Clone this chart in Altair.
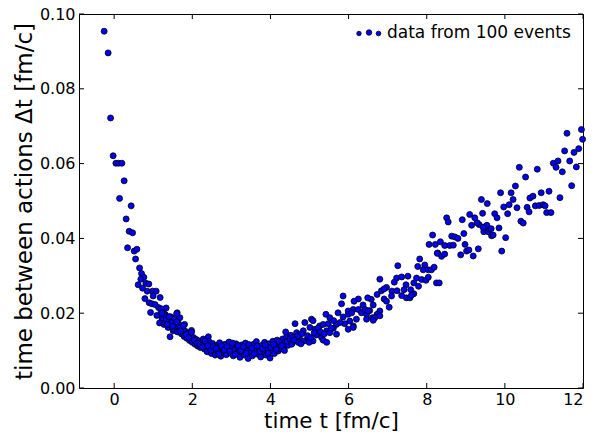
import altair as alt
import pandas as pd

# ---- data ----
t_descent = [-0.256, -0.154, -0.092, -0.026, 0.044, 0.113, 0.197, 0.256,
             0.138, 0.435, 0.307, 0.384, 0.471, 0.343, 0.512, 0.581, 0.548, 0.650,
             0.701, 0.760, 0.683, 0.811, 0.888, 0.614, 0.727, 0.845, 0.983, 1.075,
             0.998, 1.177, 0.786, 0.896, 0.965, 1.049, 1.136, 1.331, 1.203, 0.932,
             1.613, 1.093, 1.305, 1.459, 1.682, 1.229, 1.367, 1.546, 1.162, 1.272,
             1.426, 1.802, 1.43, 1.51, 1.98, 2.41, 4.39, 4.63, 1.60]
dt_descent = [0.0954, 0.0896, 0.0722, 0.0621, 0.0601, 0.0601, 0.0601, 0.0554,
              0.0507, 0.0487, 0.0452, 0.0419, 0.0415, 0.0375, 0.0366, 0.0371, 0.0345, 0.0321,
              0.0306, 0.0296, 0.0291, 0.0280, 0.0278, 0.0276, 0.0267, 0.0259, 0.0259, 0.0259,
              0.0246, 0.0242, 0.0239, 0.0228, 0.0225, 0.0223, 0.0215, 0.0214, 0.0204, 0.0202,
              0.0201, 0.0194, 0.0197, 0.0190, 0.0188, 0.0184, 0.0179, 0.0177, 0.0174, 0.0170,
              0.0170, 0.0170, 0.0137, 0.0153, 0.0154, 0.0137, 0.0150, 0.0172, 0.0199]

t_band = [1.20, 1.24, 1.27, 1.31, 1.34, 1.38, 1.41, 1.45, 1.48, 1.52, 1.55, 1.58,
          1.62, 1.65, 1.69, 1.72, 1.75, 1.79, 1.82, 1.86, 1.89, 1.93, 1.96, 2.00,
          2.03, 2.07, 2.10, 2.14, 2.17, 2.21, 2.24, 2.28, 2.31, 2.35, 2.38, 2.42,
          2.45, 2.49, 2.52, 2.56, 2.59, 2.63, 2.66, 2.70, 2.73, 2.77, 2.80, 2.84,
          2.87, 2.91, 2.94, 2.98, 3.01, 3.05, 3.08, 3.12, 3.15, 3.19, 3.22, 3.26,
          3.29, 3.33, 3.36, 3.40, 3.43, 3.47, 3.50, 3.54, 3.57, 3.61, 3.64, 3.68,
          3.71, 3.75, 3.78, 3.82, 3.85, 3.89, 3.92, 3.96, 3.99, 4.03, 4.06, 4.10,
          4.13, 4.17, 4.20, 4.24, 4.27, 4.31, 4.34, 4.38, 4.41, 4.45, 4.48, 4.52, 4.55,
          1.22, 1.36, 1.50, 1.60, 1.70, 1.77, 1.84, 1.91, 1.98, 2.05, 2.12, 2.19,
          2.26, 2.33, 2.40, 2.47, 2.54, 2.61, 2.68, 2.75, 2.82, 2.89, 2.96, 3.03,
          3.10, 3.17, 3.24, 3.31, 3.38, 3.45, 3.52, 3.59, 3.66, 3.73, 3.80, 3.87,
          3.94, 4.01, 4.08, 4.15, 4.22, 4.29, 4.36, 4.43, 4.50, 4.57]
dt_band = [0.0212, 0.0188, 0.0196, 0.0175, 0.0183, 0.0162, 0.0191, 0.0168, 0.0176, 0.0158, 0.0184, 0.0166,
           0.0150, 0.0172, 0.0161, 0.0145, 0.0158, 0.0138, 0.0152, 0.0133, 0.0147, 0.0127, 0.0141, 0.0122,
           0.0135, 0.0117, 0.0130, 0.0112, 0.0126, 0.0108, 0.0121, 0.0131, 0.0104, 0.0118, 0.0097, 0.0125,
           0.0110, 0.0092, 0.0119, 0.0103, 0.0088, 0.0114, 0.0098, 0.0121, 0.0085, 0.0107, 0.0095, 0.0117,
           0.0089, 0.0104, 0.0123, 0.0093, 0.0110, 0.0086, 0.0101, 0.0118, 0.0094, 0.0108, 0.0082, 0.0115,
           0.0097, 0.0088, 0.0120, 0.0103, 0.0079, 0.0111, 0.0094, 0.0086, 0.0117, 0.0100, 0.0124, 0.0090,
           0.0108, 0.0083, 0.0114, 0.0097, 0.0122, 0.0088, 0.0106, 0.0118, 0.0080, 0.0101, 0.0125, 0.0092,
           0.0112, 0.0128, 0.0099, 0.0117, 0.0106, 0.0131, 0.0110, 0.0122, 0.0136, 0.0114, 0.0127, 0.0141, 0.0119,
           0.0200, 0.0170, 0.0165, 0.0177, 0.0152, 0.0166, 0.0143, 0.0135, 0.0149, 0.0128, 0.0120, 0.0115,
           0.0110, 0.0126, 0.0113, 0.0100, 0.0111, 0.0106, 0.0091, 0.0113, 0.0102, 0.0111, 0.0099, 0.0120,
           0.0090, 0.0113, 0.0100, 0.0110, 0.0093, 0.0116, 0.0106, 0.0092, 0.0112, 0.0098, 0.0105, 0.0115,
           0.0093, 0.0109, 0.0116, 0.0103, 0.0124, 0.0113, 0.0100, 0.0125, 0.0132, 0.0135]

t_mid = [8.15, 8.06, 8.22, 8.28, 7.82, 7.77, 7.95, 7.91, 8.04, 8.12, 8.19, 7.26, 6.80, 7.23, 7.36,
         7.52, 7.74, 7.87, 7.98, 8.04, 8.25, 7.17, 7.67, 7.47, 7.79, 6.97, 6.84, 7.11, 7.24, 7.42,
         7.59, 7.67, 7.48, 7.57, 7.61, 7.36, 7.10, 6.91, 6.73, 6.91, 6.58, 6.49, 6.63, 6.97, 7.04,
         6.80, 6.73, 6.25, 5.86, 6.14, 5.82, 6.37, 6.12, 6.25, 6.33, 6.54, 6.46, 5.99, 5.73, 5.86,
         5.42, 5.52, 5.05, 6.03, 6.20, 6.46, 6.61, 5.69, 5.90, 6.12, 4.88, 5.26, 5.35, 5.61, 5.01,
         5.14, 5.44, 5.52, 5.69, 4.67, 4.84, 5.18, 5.31, 4.75, 4.92, 5.09, 5.35, 5.44, 4.54, 4.71,
         4.84, 5.99, 6.08, 6.42, 6.50, 6.80, 6.67, 6.63, 5.99, 6.12, 4.99, 5.09, 8.32,
         4.60, 4.70, 4.78, 4.80, 4.95, 5.03, 5.12, 5.22, 5.28, 5.38, 5.48, 5.56, 5.62, 5.78]
dt_mid = [0.0409, 0.0384, 0.0384, 0.0361, 0.0345, 0.0325, 0.0329, 0.0316, 0.0316, 0.0316, 0.0323, 0.0327, 0.0291, 0.0294, 0.0297,
          0.0299, 0.0294, 0.0290, 0.0288, 0.0296, 0.0281, 0.0283, 0.0281, 0.0276, 0.0272, 0.0269, 0.0260, 0.0259, 0.0260, 0.0263,
          0.0263, 0.0252, 0.0241, 0.0241, 0.0248, 0.0247, 0.0246, 0.0265, 0.0250, 0.0238, 0.0237, 0.0241, 0.0222, 0.0232, 0.0216,
          0.0206, 0.0197, 0.0238, 0.0246, 0.0232, 0.0225, 0.0222, 0.0210, 0.0210, 0.0201, 0.0207, 0.0197, 0.0197, 0.0201, 0.0190,
          0.0197, 0.0188, 0.0184, 0.0179, 0.0184, 0.0184, 0.0188, 0.0170, 0.0172, 0.0166, 0.0175, 0.0166, 0.0170, 0.0160, 0.0162,
          0.0157, 0.0153, 0.0148, 0.0144, 0.0148, 0.0153, 0.0142, 0.0135, 0.0131, 0.0128, 0.0126, 0.0128, 0.0122, 0.0117, 0.0122,
          0.0125, 0.0206, 0.0201, 0.0210, 0.0206, 0.0193, 0.0188, 0.0181, 0.0157, 0.0162, 0.0122, 0.0180, 0.0281,
          0.0128, 0.0140, 0.0118, 0.0145, 0.0140, 0.0135, 0.0148, 0.0160, 0.0150, 0.0145, 0.0172, 0.0160, 0.0180, 0.0175]

t_high = [11.96, 11.99, 11.59, 11.89, 11.77, 11.53, 11.36, 11.24, 11.66, 11.31, 11.83, 11.47, 11.71,
          10.83, 10.37, 10.53, 10.27, 9.89, 10.16, 10.21, 9.97, 10.11, 10.31, 10.07, 9.55, 9.40,
          9.74, 9.80, 9.85, 10.02, 9.92, 10.41, 10.47, 10.64, 10.72, 10.57, 10.62, 10.78, 10.88,
          10.98, 11.03, 10.93, 11.13, 11.07, 11.18, 11.41, 9.46, 9.57, 9.60, 9.34, 9.29, 9.15,
          9.10, 9.23, 8.91, 8.51, 8.55, 9.49, 9.66, 9.70, 8.95, 8.64, 8.72, 8.80, 8.59, 8.68,
          8.98, 9.02, 9.08, 8.87, 9.19, 9.32, 8.35, 8.46, 8.27, 8.38, 8.46, 9.54, 9.65, 9.44, 9.43]
dt_high = [0.0691, 0.0665, 0.0681, 0.0640, 0.0630, 0.0634, 0.0607, 0.0601, 0.0607, 0.0590, 0.0591, 0.0578, 0.0541,
           0.0585, 0.0590, 0.0564, 0.0540, 0.0522, 0.0522, 0.0504, 0.0484, 0.0490, 0.0482, 0.0466, 0.0493, 0.0504,
           0.0466, 0.0455, 0.0428, 0.0402, 0.0366, 0.0446, 0.0441, 0.0508, 0.0513, 0.0483, 0.0471, 0.0487, 0.0488,
           0.0490, 0.0487, 0.0522, 0.0526, 0.0469, 0.0469, 0.0509, 0.0418, 0.0418, 0.0425, 0.0437, 0.0442, 0.0435,
           0.0464, 0.0455, 0.0450, 0.0455, 0.0444, 0.0431, 0.0407, 0.0409, 0.0413, 0.0406, 0.0404, 0.0400, 0.0381, 0.0382,
           0.0384, 0.0366, 0.0369, 0.0356, 0.0353, 0.0372, 0.0391, 0.0381, 0.0360, 0.0352, 0.0358, 0.0435, 0.0426, 0.0430, 0.0467]

x_ticks = [0, 2, 4, 6, 8, 10, 12]
y_ticks = [0.0, 0.02, 0.04, 0.06, 0.08, 0.10]
legend_label = "data from 100 events"

df = pd.DataFrame({"t": t_descent + t_band + t_mid + t_high,
                   "dt": dt_descent + dt_band + dt_mid + dt_high})
xt = pd.DataFrame({"t": x_ticks})
yt = pd.DataFrame({"dt": y_ticks})
one = pd.DataFrame({"a": [0]})

W, H = 504, 374
FONT = "DejaVu Sans"
xscale = alt.Scale(domain=[-0.9, 12], nice=False, zero=False)
yscale = alt.Scale(domain=[0, 0.1], nice=False, zero=False)
xaxis = alt.Axis(values=x_ticks, format="d", title="time t [fm/c]",
                 titleFontSize=21.5, titleBaseline="alphabetic", titleY=39.5)
yaxis = alt.Axis(values=y_ticks, format=".2f", title="time between actions Δt [fm/c]",
                 titleFontSize=23)

points = alt.Chart(df).mark_circle(
    fill="#0000ff", stroke="#000000", strokeWidth=0.8, fillOpacity=1, strokeOpacity=1, size=36
).encode(
    x=alt.X("t:Q", scale=xscale, axis=xaxis),
    y=alt.Y("dt:Q", scale=yscale, axis=yaxis),
)

tick_style = dict(color="black", strokeWidth=1)
bottom_ticks = alt.Chart(xt).mark_rule(**tick_style).encode(
    x=alt.X("t:Q", scale=xscale, axis=xaxis), y=alt.value(H), y2=alt.value(H - 5))
top_ticks = alt.Chart(xt).mark_rule(**tick_style).encode(
    x=alt.X("t:Q", scale=xscale, axis=xaxis), y=alt.value(0), y2=alt.value(5))
left_ticks = alt.Chart(yt).mark_rule(**tick_style).encode(
    y=alt.Y("dt:Q", scale=yscale, axis=yaxis), x=alt.value(0), x2=alt.value(5))
right_ticks = alt.Chart(yt).mark_rule(**tick_style).encode(
    y=alt.Y("dt:Q", scale=yscale, axis=yaxis), x=alt.value(W), x2=alt.value(W - 5))

leg_style = dict(fill="#0000ff", stroke="#000000", strokeWidth=0.8, fillOpacity=1, strokeOpacity=1)
leg1 = alt.Chart(one).mark_circle(size=20, **leg_style).encode(x=alt.value(280), y=alt.value(19.5))
leg2 = alt.Chart(one).mark_circle(size=30, **leg_style).encode(x=alt.value(290), y=alt.value(18.5))
leg3 = alt.Chart(one).mark_circle(size=22, **leg_style).encode(x=alt.value(299.5), y=alt.value(19.5))
leg_text = alt.Chart(one).mark_text(
    text=legend_label, align="left", baseline="middle", font=FONT, fontSize=17, color="black"
).encode(x=alt.value(308), y=alt.value(19))

chart = alt.layer(
    points, bottom_ticks, top_ticks, left_ticks, right_ticks, leg1, leg2, leg3, leg_text
).properties(
    width=W, height=H,
    autosize=alt.AutoSizeParams(type="none"),
    padding={"left": 71, "top": 6, "right": 3, "bottom": 45},
    background="white",
).configure_view(
    stroke="black", strokeWidth=1
).configure_axis(
    grid=False, domain=False, ticks=False,
    labelFont=FONT, labelFontSize=16, labelColor="black",
    titleFont=FONT, titleFontWeight="normal", titleColor="black",
).configure_axisX(
    labelPadding=3,
).configure_axisY(
    labelPadding=4, titlePadding=3,
)

chart.save("out.html", embed_options={"renderer": "svg", "actions": False})
